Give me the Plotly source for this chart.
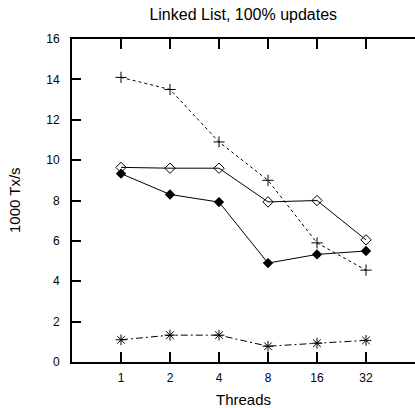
import plotly.graph_objects as go

threads = ["1", "2", "4", "8", "16", "32"]
plus_vals = [14.1, 13.5, 10.9, 9.0, 5.9, 4.55]
open_diamond_vals = [9.64, 9.6, 9.6, 7.93, 8.0, 6.05]
filled_diamond_vals = [9.33, 8.3, 7.92, 4.9, 5.33, 5.5]
star_vals = [1.1, 1.33, 1.33, 0.78, 0.93, 1.07]
y_ticks = [0, 2, 4, 6, 8, 10, 12, 14, 16]

FONT = "Liberation Sans, Arial, sans-serif"

fig = go.Figure()
fig.add_trace(go.Scatter(
    x=threads, y=plus_vals, mode="lines+markers",
    line=dict(color="black", width=1, dash="3px,3px"),
    marker=dict(symbol="cross-thin-open", size=8, color="black", line=dict(width=1, color="black")),
))
fig.add_trace(go.Scatter(
    x=threads, y=open_diamond_vals, mode="lines+markers",
    line=dict(color="black", width=1),
    marker=dict(symbol="diamond-open", size=8, color="black", line=dict(width=1, color="black")),
))
fig.add_trace(go.Scatter(
    x=threads, y=filled_diamond_vals, mode="lines+markers",
    line=dict(color="black", width=1),
    marker=dict(symbol="diamond", size=8, color="black"),
))
fig.add_trace(go.Scatter(
    x=threads, y=star_vals, mode="lines+markers",
    line=dict(color="black", width=1, dash="7px,3px,2px,3px"),
    marker=dict(symbol="asterisk-open", size=9, color="black", line=dict(width=1, color="black")),
))

W, H = 415, 408
L, T, B = 71.5, 38.5, 46.3
fig.update_layout(
    width=W, height=H,
    margin=dict(l=L, r=0, t=T, b=B, autoexpand=False),
    paper_bgcolor="white", plot_bgcolor="white",
    showlegend=False, hovermode=False,
    font=dict(family=FONT, size=12, color="black"),
    title=dict(text="Linked List, 100% updates", x=(L + W) / 2 / W, xanchor="center",
               y=1 - 14.5 / H, yanchor="middle",
               font=dict(family=FONT, size=16, color="black")),
    xaxis=dict(
        type="category", categoryorder="array", categoryarray=threads,
        range=[-1, 6], showgrid=False, zeroline=False,
        showline=True, linecolor="black", linewidth=2, mirror="ticks",
        ticks="inside", ticklen=10, tickwidth=2, tickcolor="black",
        tickfont=dict(family=FONT, size=12), ticklabelstandoff=4,
    ),
    yaxis=dict(
        range=[0, 16], tickvals=y_ticks, showgrid=False, zeroline=False,
        showline=True, linecolor="black", linewidth=2,
        ticks="inside", ticklen=9, tickwidth=2, tickcolor="black",
        tickfont=dict(family=FONT, size=12), ticklabelstandoff=8,
    ),
    annotations=[
        dict(text="Threads", xref="paper", yref="paper", x=0.5, y=0,
             xanchor="center", yanchor="middle", yshift=-37, showarrow=False,
             font=dict(family=FONT, size=15)),
        dict(text="1000 Tx/s", xref="paper", yref="paper", x=0, y=0.5,
             xanchor="center", yanchor="middle", xshift=-57.5, textangle=-90, showarrow=False,
             font=dict(family=FONT, size=15)),
    ],
)

fig.write_html("out.html", config={"displayModeBar": False},
               post_script="document.body.style.margin='0';document.body.style.overflow='hidden';")
